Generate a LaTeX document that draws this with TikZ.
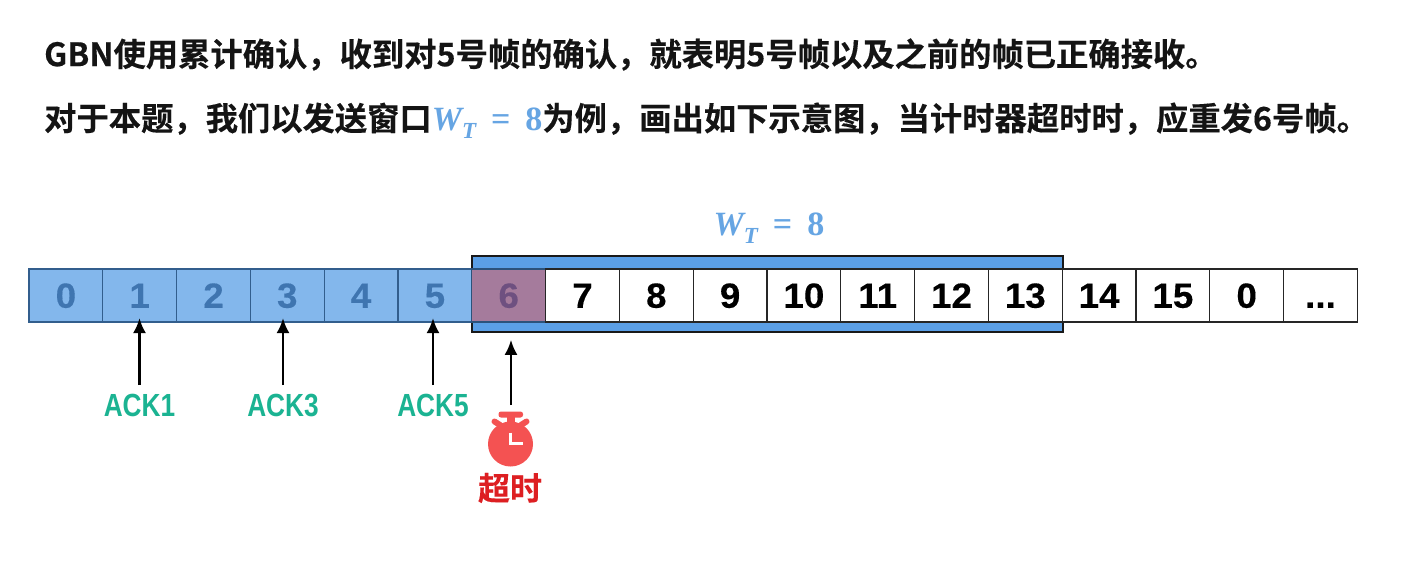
\documentclass[tikz,border=0pt]{standalone}
\usepackage{fontspec}
\usetikzlibrary{arrows.meta}
\setmainfont{Liberation Sans}
\newfontfamily\cjk{Noto Sans CJK SC}[BoldFont={* Bold},BoldFeatures={FakeBold=0.25}]
\newfontfamily\cellfont{Liberation Sans}[BoldFont={Liberation Sans Bold},BoldFeatures={FakeStretch=1.05,FakeBold=0.3}]
\newfontfamily\ackfont{Liberation Sans}[BoldFont={Liberation Sans Bold},BoldFeatures={FakeStretch=0.82}]
\newfontfamily\mathserif{Liberation Serif}
\definecolor{winblue}{HTML}{5B9FE6}
\definecolor{donefill}{HTML}{83B7EC}
\definecolor{donetext}{HTML}{3F75B0}
\definecolor{purplefill}{HTML}{A57B9C}
\definecolor{purpletext}{HTML}{6E5080}
\definecolor{mathblue}{HTML}{66A5E3}
\definecolor{ackgreen}{HTML}{1BB392}
\definecolor{timerred}{HTML}{F45252}
\definecolor{timeoutred}{HTML}{DD1F22}
\newcommand{\wt}{{\fontsize{34}{34}\selectfont\mathserif\bfseries\itshape W\raisebox{-0.24em}{\fontsize{23}{23}\selectfont T}\upshape\hspace{0.44em}=\hspace{0.44em}8}}
\tikzset{
  x=1pt,y=-1pt,
  cellbox/.style={draw=black!85,line width=1.1pt,minimum width=73.8pt,minimum height=53pt,inner sep=0pt,outer sep=0pt,font=\fontsize{35}{35}\selectfont\cellfont\bfseries,text height=24.5pt,text depth=0pt,fill=white},
  donecell/.style={cellbox,fill=donefill,text=donetext,draw=donetext!80!black},
  timecell/.style={cellbox,fill=purplefill,text=purpletext,draw=donetext!70!black},
  acklabel/.style={font=\fontsize{32}{32}\selectfont\ackfont\bfseries,text=ackgreen,inner sep=0pt},
  headline/.style={anchor=west,inner sep=0pt,font=\fontsize{32.3}{38}\selectfont\cjk\bfseries,text=black!92},
  arrowline/.style={draw=black,line width=2.6pt,-{Latex[length=15pt,width=13pt]}},
}
\begin{document}
\begin{tikzpicture}
\useasboundingbox (0,0) rectangle (1424,581);
\fill[white] (0,0) rectangle (1424,581);
\node[headline] (l1) at (44,54.5) {GBN使用累计确认，收到对5号帧的确认，就表明5号帧以及之前的帧已正确接收。};
\node[headline] (l2) at (44,120.5) {对于本题，我们以发送窗口{\color{mathblue}\wt}为例，画出如下示意图，当计时器超时时，应重发6号帧。};
\node[text=mathblue,inner sep=0pt] (wl) at (769,228) {\wt};
% window
\node[draw=black!90,line width=1.6pt,fill=winblue,minimum width=591pt,minimum height=76pt,inner sep=0pt] (win) at (767.5,294) {};
% cells
\foreach \i/\t/\s in {0/0/donecell,1/1/donecell,2/2/donecell,3/3/donecell,4/4/donecell,5/5/donecell,6/6/timecell,7/7/cellbox,8/8/cellbox,9/9/cellbox,10/10/cellbox,11/11/cellbox,12/12/cellbox,13/13/cellbox,14/14/cellbox,15/15/cellbox,16/0/cellbox}
  \node[\s] (c\i) at ({29+73.8*(\i+0.5)},295.5) {\t};
\node[cellbox] (c17) at ({29+73.8*17.5},295.5) {...};
% labels
\node[acklabel] (a1) at (139.5,405.5) {ACK1};
\node[acklabel] (a3) at (283,405.5) {ACK3};
\node[acklabel] (a5) at (433,405.5) {ACK5};
\coordinate (a1t) at (139.5,385);
\coordinate (a3t) at (283,385);
\coordinate (a5t) at (433,385);
\coordinate (wt) at (511,405);
\draw[arrowline,shorten >=-4pt] (a1t) -- (a1t |- c1.south);
\draw[arrowline,shorten >=-4pt] (a3t) -- (a3t |- c3.south);
\draw[arrowline,shorten >=-4pt] (a5t) -- (a5t |- c5.south);
\draw[arrowline,shorten >=7pt] (wt) -- (wt |- win.south);
% stopwatch
\fill[timerred] (510.5,444) circle[radius=22.5];
\fill[timerred,rounded corners=2.5pt] (498.5,411.5) rectangle (523,417.5);
\fill[timerred] (506.5,414) rectangle (515,425);
\draw[timerred,line width=6pt,line cap=round] (494.5,421.5) -- (500,425);
\draw[timerred,line width=6pt,line cap=round] (526.5,421.5) -- (521,425);
\draw[white,line width=3.2pt] (510.8,432.5) -- (510.8,443.5) -- (522.5,443.5);
\node[font=\fontsize{32}{32}\selectfont\cjk\bfseries,text=timeoutred,inner sep=0pt] (to) at (510,488) {超时};
\end{tikzpicture}
\end{document}
